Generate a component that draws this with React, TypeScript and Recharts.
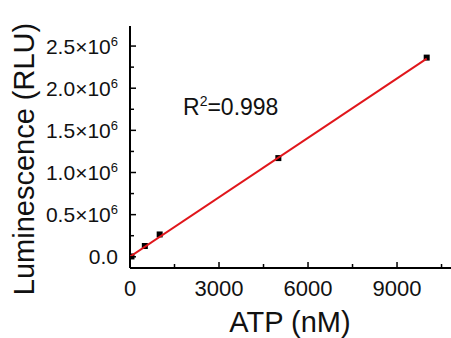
import React from 'react';
import { ComposedChart, Scatter, XAxis, YAxis } from 'recharts';

// measured ATP standards
const atp = [50, 500, 1000, 5000, 10000];
const lum = [0.004e6, 0.128e6, 0.265e6, 1.171e6, 2.363e6];

// linear fit drawn across the range
const fitX = [0, 10000];
const fitY = [0.0, 2.35e6];

const xTicks = [0, 1500, 3000, 4500, 6000, 7500, 9000, 10500];
const xMajor = [0, 3000, 6000, 9000];
const yTicks = [0, 0.25e6, 0.5e6, 0.75e6, 1e6, 1.25e6, 1.5e6, 1.75e6, 2e6, 2.25e6, 2.5e6];
const yMajor = [0, 0.5e6, 1e6, 1.5e6, 2e6, 2.5e6];

const points = atp.map((x, i) => ({ x, y: lum[i] }));
const fit = fitX.map((x, i) => ({ x, y: fitY[i] }));

const W = 451;
const H = 338;
const LEFT = 130;
const TOP = 26;
const BOTTOM = 268;
const FONT = '"Liberation Sans", Arial, sans-serif';

const YTick = (props: any) => {
  const { y, payload } = props;
  const v = payload.value;
  const major = yMajor.includes(v);
  return (
    <g>
      <line x1={LEFT} x2={LEFT + (major ? 6 : 4)} y1={y} y2={y} stroke="#000" strokeWidth={1.5} />
      {major && (
        <text x={118} y={y} dy="0.36em" textAnchor="end" fontSize={21} fontFamily={FONT} fill="#111">
          {v === 0 ? (
            '0.0'
          ) : (
            <>
              {(v / 1e6).toFixed(1)}×10
              <tspan dy={-8} fontSize={13}>6</tspan>
            </>
          )}
        </text>
      )}
    </g>
  );
};

const XTick = (props: any) => {
  const { x, payload } = props;
  const v = payload.value;
  const major = xMajor.includes(v);
  return (
    <g>
      <line x1={x} x2={x} y1={BOTTOM} y2={BOTTOM - (major ? 6 : 4)} stroke="#000" strokeWidth={1.5} />
      {major && (
        <text x={x} y={296} textAnchor="middle" fontSize={22} fontFamily={FONT} fill="#111">
          {v}
        </text>
      )}
    </g>
  );
};

const Square = (props: any) => {
  const { cx, cy } = props;
  return <rect x={cx - 3} y={cy - 3} width={6} height={6} fill="#000" />;
};

const App = () => {
  return (
    <div style={{ position: 'absolute', left: 0, top: 0, width: W, height: H, background: '#fff' }}>
      <ComposedChart width={W} height={H} margin={{ top: TOP, right: 0, bottom: 0, left: 0 }}>
        <XAxis
          type="number"
          dataKey="x"
          domain={[0, 10819]}
          ticks={xTicks}
          height={H - BOTTOM}
          axisLine={{ stroke: '#000', strokeWidth: 2 }}
          tickLine={false}
          tick={<XTick />}
          interval={0}
          allowDataOverflow
        />
        <XAxis
          xAxisId="top"
          orientation="top"
          type="number"
          dataKey="x"
          domain={[0, 10819]}
          height={0}
          tick={false}
          tickLine={false}
          axisLine={{ stroke: '#000', strokeWidth: 2 }}
          allowDataOverflow
        />
        <YAxis
          type="number"
          dataKey="y"
          domain={[-0.133e6, 2.738e6]}
          ticks={yTicks}
          width={LEFT}
          axisLine={{ stroke: '#000', strokeWidth: 2 }}
          tickLine={false}
          tick={<YTick />}
          interval={0}
          allowDataOverflow
        />
        <Scatter data={points} fill="#000" shape={<Square />} isAnimationActive={false} />
        <Scatter
          data={fit}
          line={{ stroke: '#e0161b', strokeWidth: 2 }}
          shape={() => <g />}
          isAnimationActive={false}
        />
      </ComposedChart>
      <svg width={W} height={H} style={{ position: 'absolute', left: 0, top: 0, pointerEvents: 'none' }}>
        <text x={183} y={115} fontSize={23} fontFamily={FONT} fill="#111">
          R<tspan dy={-9} fontSize={14}>2</tspan>
          <tspan dy={9}>=0.998</tspan>
        </text>
        <text x={290} y={332} textAnchor="middle" fontSize={29} fontFamily={FONT} fill="#111">
          ATP (nM)
        </text>
        <text
          x={34}
          y={159}
          transform="rotate(-90 34 159)"
          textAnchor="middle"
          fontSize={29}
          fontFamily={FONT}
          fill="#111"
        >
          Luminescence (RLU)
        </text>
      </svg>
    </div>
  );
};

export default App;
